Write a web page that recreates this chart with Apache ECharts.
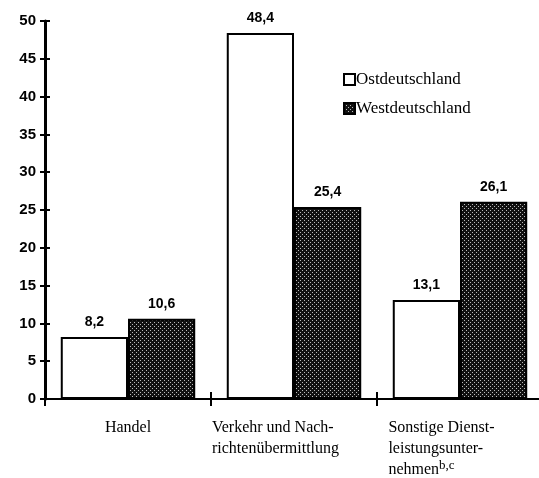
<!DOCTYPE html>
<html>
<head>
<meta charset="utf-8">
<script src="https://cdn.jsdelivr.net/npm/echarts@6/dist/echarts.min.js"></script>
<style>
  html, body { margin: 0; padding: 0; background: #fff; }
  #chart { width: 539px; height: 478px; }
</style>
</head>
<body>
<div id="chart"></div>
<script>
// data
var categories = ["Handel", "Verkehr und Nach-\nrichtenübermittlung", "Sonstige Dienst-\nleistungsunter-\nnehmen"];
var ostValues = [8.2, 48.4, 13.1];
var westValues = [10.6, 25.4, 26.1];
var seriesNames = ["Ostdeutschland", "Westdeutschland"];

// dotted dark fill for Westdeutschland
function dotPattern() {
  var c = document.createElement("canvas");
  c.width = 4; c.height = 4;
  var ctx = c.getContext("2d");
  ctx.fillStyle = "#111";
  ctx.fillRect(0, 0, 4, 4);
  ctx.fillStyle = "#bbb";
  ctx.fillRect(0, 0, 1, 1);
  ctx.fillRect(2, 2, 1, 1);
  return c;
}

var serif = "'Liberation Serif', 'DejaVu Serif', serif";
var sans = "'Liberation Sans', Arial, sans-serif";
var myChart = echarts.init(document.getElementById("chart"));

// label lines: left aligned, block pushed left by right padding
function catLabel(v, idx) {
  var lines = v.split("\n");
  if (idx === 0) return "{l|" + v + "}";
  return lines.map(function (s, i) {
    var last = i === lines.length - 1;
    if (idx === 2 && last) return "{l|" + s + "}{sup|b,c}";
    return "{p|" + s + "}";
  }).join("\n");
}

myChart.setOption({
  animation: false,
  textStyle: { fontFamily: serif, color: "#000" },
  legend: {
    orient: "vertical",
    left: 343,
    top: 71,
    padding: 0,
    icon: "rect",
    itemWidth: 11,
    itemHeight: 11,
    itemGap: 12,
    textStyle: { fontFamily: serif, fontSize: 17, color: "#000", padding: [0, 0, 0, -4] },
    data: seriesNames
  },
  grid: { left: 45, width: 498, top: 21, bottom: 79, outerBoundsMode: "none" },
  xAxis: [
    {
      type: "category",
      data: categories,
      axisLine: { lineStyle: { color: "#000", width: 2 } },
      axisTick: { show: true, interval: 0, length: 7, lineStyle: { color: "#000", width: 2 } },
      axisLabel: {
        interval: 0,
        margin: 18,
        fontFamily: serif,
        fontSize: 16,
        color: "#000",
        lineHeight: 21,
        formatter: catLabel,
        rich: {
          l: { align: "left", fontFamily: serif, fontSize: 16, color: "#000", lineHeight: 21 },
          p: { align: "left", fontFamily: serif, fontSize: 16, color: "#000", lineHeight: 21, padding: [0, 37, 0, 0] },
          sup: { align: "left", verticalAlign: "top", fontFamily: serif, fontSize: 13, color: "#000", padding: [0, 0, 6, 0] }
        }
      }
    },
    {
      type: "category",
      data: categories,
      position: "bottom",
      axisLine: { show: false },
      axisTick: { show: true, interval: 0, inside: true, length: 7, lineStyle: { color: "#000", width: 2 } },
      axisLabel: { show: false }
    }
  ],
  yAxis: [
    {
      type: "value",
      min: 0,
      max: 50,
      interval: 5,
      splitLine: { show: false },
      axisLine: { show: true, lineStyle: { color: "#000", width: 3 } },
      axisTick: { show: true, length: 5, lineStyle: { color: "#000", width: 2 } },
      axisLabel: { margin: 9, fontFamily: sans, fontSize: 15, fontWeight: "bold", color: "#000" }
    },
    {
      type: "value",
      min: 0,
      max: 50,
      interval: 5,
      position: "left",
      splitLine: { show: false },
      axisLine: { show: false },
      axisTick: { show: true, inside: true, length: 5, lineStyle: { color: "#000", width: 2 } },
      axisLabel: { show: false }
    }
  ],
  series: [
    {
      name: seriesNames[0],
      type: "bar",
      data: ostValues,
      barGap: "0%",
      barCategoryGap: "19%",
      itemStyle: { color: "#fff", borderColor: "#000", borderWidth: 2 },
      label: {
        show: true, position: "top", distance: 8,
        fontFamily: sans, fontSize: 14, fontWeight: "bold", color: "#000",
        formatter: function (p) { return String(p.value).replace(".", ","); }
      }
    },
    {
      name: seriesNames[1],
      type: "bar",
      data: westValues,
      itemStyle: { color: { image: dotPattern(), repeat: "repeat" }, borderColor: "#000", borderWidth: 2 },
      label: {
        show: true, position: "top", distance: 8,
        fontFamily: sans, fontSize: 14, fontWeight: "bold", color: "#000",
        formatter: function (p) { return String(p.value).replace(".", ","); }
      }
    }
  ]
});
</script>
</body>
</html>
